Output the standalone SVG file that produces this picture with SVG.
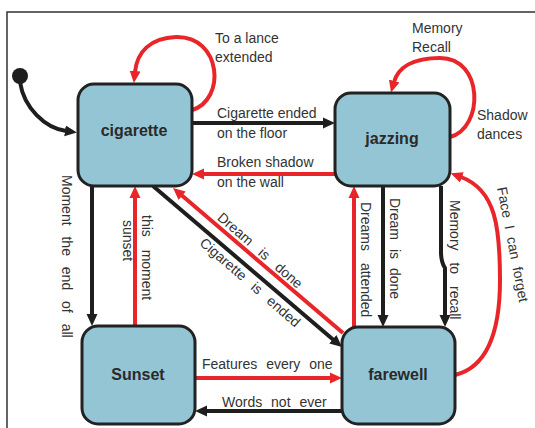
<svg xmlns="http://www.w3.org/2000/svg" width="535" height="428" viewBox="0 0 535 428">
<defs>
<style>
.node{fill:#93C5D5;stroke:#222;stroke-width:3}
.nl{font-family:"Liberation Sans",Arial,sans-serif;font-size:16px;font-weight:bold;fill:#2a2a2a;text-anchor:middle}
.lb{font-family:"Liberation Sans",Arial,sans-serif;font-size:14px;fill:#333}
.bk{fill:none;stroke:#1e1e1e;stroke-width:4}
.rd{fill:none;stroke:#E8262A;stroke-width:4}
</style>
<marker id="ab" markerUnits="userSpaceOnUse" markerWidth="14" markerHeight="12" refX="1" refY="6" orient="auto"><path d="M0,0.5 L12,6 L0,11.5 z" fill="#1e1e1e"/></marker>
<marker id="ar" markerUnits="userSpaceOnUse" markerWidth="14" markerHeight="12" refX="1" refY="6" orient="auto"><path d="M0,0.5 L12,6 L0,11.5 z" fill="#E8262A"/></marker>
</defs>
<rect width="535" height="428" fill="#fff"/>
<path d="M7,428 L7,12 L535,12" fill="none" stroke="#333" stroke-width="1.5"/>

<g id="connectors">
<circle cx="20" cy="76" r="8" fill="#1e1e1e"/>
<path class="bk" d="M20,82 C24,108 45,128 66,131" marker-end="url(#ab)"/>
<path class="rd" d="M192,110 C226,100 222,36 176,37 C150,38 137,52 135,72" marker-end="url(#ar)"/>
<path class="rd" d="M450,137 C484,128 484,58 440,58 C412,58 398,68 394,82" marker-end="url(#ar)"/>
<path class="bk" d="M192,123 L324,123" marker-end="url(#ab)"/>
<path class="rd" d="M335,174 L203,174" marker-end="url(#ar)"/>
<path class="bk" d="M92,186 L92,315" marker-end="url(#ab)"/>
<path class="rd" d="M135,326 L135,197" marker-end="url(#ar)"/>
<path class="bk" d="M153,186 L333.6,339.9" marker-end="url(#ab)"/>
<path class="rd" d="M343,333 L181.4,195.1" marker-end="url(#ar)"/>
<path class="bk" d="M383,186 L383,316" marker-end="url(#ab)"/>
<path class="rd" d="M354,327 L354,197" marker-end="url(#ar)"/>
<path class="bk" d="M441,186 L441,252 Q441,262 445,268 L445,316" marker-end="url(#ab)"/>
<path class="rd" d="M455,375 C488,367 500,330 500,280 C500,228 496,190 461,177" marker-end="url(#ar)"/>
<path class="rd" d="M195,378 L331,378" marker-end="url(#ar)"/>
<path class="bk" d="M342,411 L206,411" marker-end="url(#ab)"/>

<text class="lb" x="215" y="43">To a lance</text>
<text class="lb" x="215" y="62">extended</text>
<text class="lb" x="412" y="33">Memory</text>
<text class="lb" x="412" y="52">Recall</text>
<text class="lb" x="477" y="120">Shadow</text>
<text class="lb" x="477" y="139">dances</text>
<text class="lb" x="217" y="118">Cigarette ended</text>
<text class="lb" x="217" y="138">on the floor</text>
<text class="lb" x="217" y="167">Broken shadow</text>
<text class="lb" x="217" y="187">on the wall</text>
<text class="lb" transform="translate(62,175) rotate(90)" word-spacing="7">Moment the end of all</text>
<text class="lb" transform="translate(142,215) rotate(90)" word-spacing="9">this moment</text>
<text class="lb" transform="translate(123,220) rotate(90)">sunset</text>
<text class="lb" transform="translate(361,202) rotate(90)" word-spacing="8">Dreams attended</text>
<text class="lb" transform="translate(390,198) rotate(90)" word-spacing="5">Dream is done</text>
<text class="lb" transform="translate(450,200) rotate(90)" word-spacing="8">Memory to recall</text>
<text class="lb" transform="translate(497,188) rotate(79)" word-spacing="4">Face I can forget</text>
<text class="lb" transform="translate(257,254) rotate(41)" text-anchor="middle" word-spacing="8">Dream is done</text>
<text class="lb" transform="translate(247,286) rotate(41)" text-anchor="middle" word-spacing="7">Cigarette is ended</text>
<text class="lb" x="202" y="369" word-spacing="5">Features every one</text>
<text class="lb" x="222" y="407" word-spacing="5">Words not ever</text>
</g>

<g id="cigarette"><rect class="node" x="78" y="84" width="114" height="102" rx="16"/><text class="nl" x="134" y="136">cigarette</text></g>
<g id="jazzing"><rect class="node" x="335" y="93" width="115" height="93" rx="16"/><text class="nl" x="392" y="144">jazzing</text></g>
<g id="sunset"><rect class="node" x="82" y="326" width="113" height="98" rx="16"/><text class="nl" x="138" y="380">Sunset</text></g>
<g id="farewell"><rect class="node" x="342" y="327" width="113" height="97" rx="16"/><text class="nl" x="398" y="380">farewell</text></g>
</svg>
